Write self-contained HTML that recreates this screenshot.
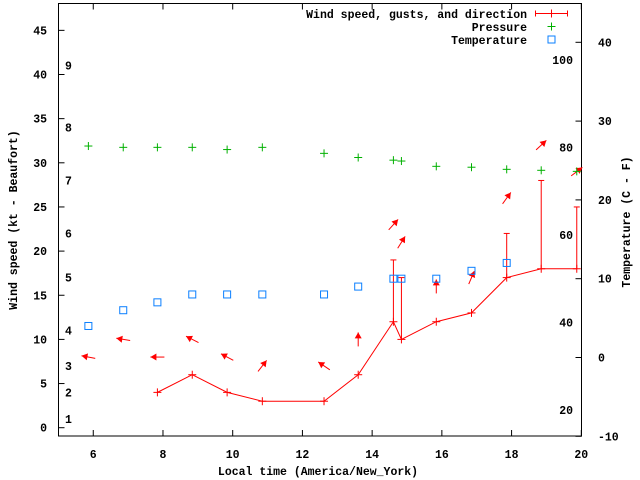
<!DOCTYPE html>
<html><head><meta charset="utf-8"><style>
html,body{margin:0;padding:0;background:#fff;}
svg{display:block;font-family:"Liberation Mono",monospace;font-weight:bold;}
</style></head><body>
<svg id="chart" width="640" height="480" viewBox="0 0 640 480" xmlns="http://www.w3.org/2000/svg">
<g id="grid"></g>
</svg>
<script>
const times = [7.84, 8.84, 9.84, 10.85, 12.62, 13.6, 14.61, 14.84, 15.84, 16.85, 17.86, 18.85, 19.87];
const speeds = [4, 6, 4, 3, 3, 6, 12, 10, 12, 13, 17, 18, 18];
const gustTimes = [14.61, 14.84, 17.86, 18.85, 19.87];
const gustSpeeds = [12, 10, 17, 18, 18];
const gusts = [19, 17, 22, 28, 25];
const obsTimes = [5.86, 6.86, 7.84, 8.84, 9.84, 10.85, 12.62, 13.6, 14.61, 14.84, 15.84, 16.85, 17.86, 18.85, 19.87];
const pressure = [31.9, 31.75, 31.75, 31.75, 31.5, 31.75, 31.07, 30.6, 30.3, 30.2, 29.6, 29.5, 29.26, 29.15, 29.03];
const tempTimes = [5.86, 6.86, 7.84, 8.84, 9.84, 10.85, 12.62, 13.6, 14.61, 14.84, 15.84, 16.85, 17.86];
const temps = [4, 6, 7, 8, 8, 8, 8, 9, 10, 10, 10, 11, 12];
const arrowLevel = [8, 10, 8, 10, 8, 7, 7, 10, 23, 21, 16, 17, 26, 32, 29];
const arrowAngle = [169, 171, 180, 153, 152, 52, 146, 90, 48, 58, 90, 67, 54, 43, 37];
const xTicks = [6, 8, 10, 12, 14, 16, 18, 20];
const yTicks = [0, 5, 10, 15, 20, 25, 30, 35, 40, 45];
const y2Ticks = [-10, 0, 10, 20, 30, 40];
const beaufort = [[1, 1], [2, 4], [3, 7], [4, 11], [5, 17], [6, 22], [7, 28], [8, 34], [9, 41]];
const fahr = [20, 40, 60, 80, 100];

const L = 58.5, R = 581.5, T = 3.5, B = 436;
const X = t => 58.4 + (t - 5) * 34.86;
const Y = v => 427.7 - v * 8.83;
const Y2 = c => 42.3 + (40 - c) * 7.88;
const YF = f => Y2((f - 32) * 5 / 9);
const NS = "http://www.w3.org/2000/svg";
const svg = document.getElementById('chart');
function mk(tag, attrs, parent) {
  const e = document.createElementNS(NS, tag);
  for (const k in attrs) e.setAttribute(k, attrs[k]);
  (parent || svg).appendChild(e);
  return e;
}
function txt(x, y, s, anchor, extra) {
  const e = mk('text', Object.assign({x: x, y: y, 'font-size': 11.5, 'text-anchor': anchor || 'start', fill: '#000'}, extra || {}));
  e.textContent = s;
  return e;
}
// frame
let f = mk('rect', {x: L, y: T, width: R - L, height: B - T, fill: 'none', stroke: '#000', 'stroke-width': 1});


// x ticks
xTicks.forEach(t => {
  const x = X(t);
  mk('line', {x1: x, y1: B, x2: x, y2: B - 6, stroke: '#000'});
  mk('line', {x1: x, y1: T, x2: x, y2: T + 6, stroke: '#000'});
  const e = txt(x, 458, String(t), 'middle');
  
  
});
yTicks.forEach(v => {
  const y = Y(v);
  mk('line', {x1: L, y1: y, x2: L + 6, y2: y, stroke: '#000'});
  const e = txt(47, y + 4, String(v), 'end');
  
  
});
y2Ticks.forEach(c => {
  const y = Y2(c);
  mk('line', {x1: R, y1: y, x2: R - 6, y2: y, stroke: '#000'});
  const e = txt(598, y + 4, String(c), 'start');
  
  
});
beaufort.forEach(b => {
  const e = txt(65, Y(b[1]) - 8 + 12, String(b[0]), 'start');
  
  
});
fahr.forEach(v => {
  const e = txt(573, YF(v) + 4, String(v), 'end');
  
  
});
// titles
let t1 = txt(318, 475, 'Local time (America/New_York)', 'middle');


let t2 = txt(0, 0, 'Wind speed (kt - Beaufort)', 'middle', {transform: 'translate(17,220) rotate(-90)'});


let t3 = txt(0, 0, 'Temperature (C - F)', 'middle', {transform: 'translate(630,222) rotate(-90)'});


const red = '#ff0000', green = '#00b000', blue = '#0a7fff';
function plus(x, y, c, s) {
  const g = mk('g', {stroke: c, 'stroke-width': 1});
  mk('line', {x1: x - s, y1: y, x2: x + s, y2: y}, g);
  mk('line', {x1: x, y1: y - s, x2: x, y2: y + s}, g);
  return g;
}
// speed line
let pl = mk('polyline', {points: times.map((t, i) => X(t) + ',' + Y(speeds[i])).join(' '), fill: 'none', stroke: red, 'stroke-width': 1});


times.forEach((t, i) => {
  const g = plus(X(t), Y(speeds[i]), red, 4);
  
  
});
gustTimes.forEach((t, i) => {
  const x = X(t);
  const g = mk('g', {stroke: red, 'stroke-width': 1});
  mk('line', {x1: x, y1: Y(gustSpeeds[i]), x2: x, y2: Y(gusts[i])}, g);
  mk('line', {x1: x - 3, y1: Y(gusts[i]), x2: x + 3, y2: Y(gusts[i])}, g);
  
  
});
// arrows
obsTimes.forEach((t, i) => {
  const cx = X(t), cy = Y(arrowLevel[i]);
  const a = arrowAngle[i] * Math.PI / 180;
  const dx = Math.cos(a), dy = -Math.sin(a);
  const len = 14;
  const tx = cx + dx * len / 2, ty = cy + dy * len / 2;
  const sx = cx - dx * len / 2, sy = cy - dy * len / 2;
  const g = mk('g', {});
  mk('line', {x1: sx, y1: sy, x2: tx, y2: ty, stroke: red, 'stroke-width': 1}, g);
  const hl = 6, hw = 3.5;
  const bx = tx - dx * hl, by = ty - dy * hl;
  mk('polygon', {points: tx + ',' + ty + ' ' + (bx - dy * hw) + ',' + (by + dx * hw) + ' ' + (bx + dy * hw) + ',' + (by - dx * hw), fill: red}, g);
  
  
});
// pressure
obsTimes.forEach((t, i) => {
  const g = plus(X(t), Y(pressure[i]), green, 4);
  
  
});
// temperature
tempTimes.forEach((t, i) => {
  const r = mk('rect', {x: X(t) - 3.5, y: Y2(temps[i]) - 3.5, width: 7, height: 7, fill: 'none', stroke: blue, 'stroke-width': 1});
  
  
});
// legend
const lg = mk('g', {});


let l1 = txt(527, 18, 'Wind speed, gusts, and direction', 'end');


mk('line', {x1: 535.5, y1: 13.5, x2: 567.5, y2: 13.5, stroke: red}, lg);
mk('line', {x1: 535.5, y1: 10.5, x2: 535.5, y2: 16.5, stroke: red}, lg);
mk('line', {x1: 567.5, y1: 10.5, x2: 567.5, y2: 16.5, stroke: red}, lg);
mk('line', {x1: 551.5, y1: 9.5, x2: 551.5, y2: 17.5, stroke: red}, lg);
let l2 = txt(527, 31, 'Pressure', 'end');


lg.appendChild(plus(551.5, 26.5, green, 4));
let l3 = txt(527, 44, 'Temperature', 'end');


mk('rect', {x: 548, y: 36, width: 7, height: 7, fill: 'none', stroke: blue}, lg);
</script>
</body></html>
